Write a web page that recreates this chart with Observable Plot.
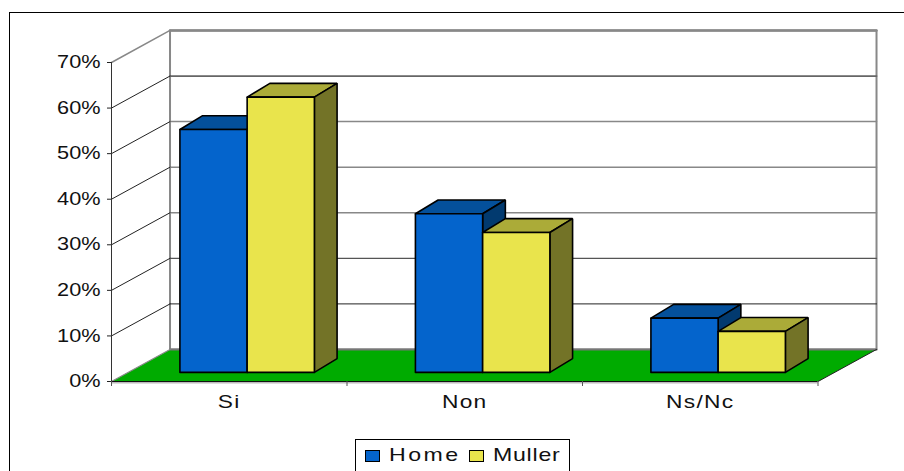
<!DOCTYPE html>
<html>
<head>
<meta charset="utf-8">
<script src="https://cdn.jsdelivr.net/npm/d3@7"></script>
<script src="https://cdn.jsdelivr.net/npm/@observablehq/plot@0.6"></script>
<style>
html,body{margin:0;padding:0;background:#fff;overflow:hidden;width:904px;height:471px}
#frame{position:absolute;left:9px;top:12px;width:895px;height:459px;border-left:1.5px solid #000;border-top:1.5px solid #000;box-sizing:border-box}
#chart{position:absolute;left:0;top:0}
#legend{position:absolute;left:355px;top:439px;width:215px;height:40px;border:1px solid #000;box-sizing:border-box;background:#fff;font-family:"Liberation Sans",Arial,sans-serif;font-size:18.5px;color:#111}
#legend i{position:absolute;top:9.5px;width:13px;height:10px;border:1.5px solid #000;box-sizing:content-box}
#legend span{position:absolute;top:5px;line-height:20px;transform-origin:0 50%;transform:scaleX(1.25);letter-spacing:2px;white-space:nowrap}
</style>
</head>
<body>
<div id="frame"></div>
<div id="chart"></div>
<div id="legend"></div>
<script>
const categories = ["Si", "Non", "Ns/Nc"];
const seriesNames = ["Home", "Muller"];
const home = [53.3, 34.8, 11.9];
const muller = [60.4, 30.7, 9.0];
const yTicks = [0, 10, 20, 30, 40, 50, 60, 70];
const frontColors = ["#0464CC", "#E9E44C"];
const topColors = ["#04509B", "#ABAB38"];
const sideColors = ["#023A6F", "#737327"];
const floorColor = "#00AB00";

// Oblique projection, in data units: the depth of the chart box and of a bar.
const boxDepthX = 0.2485, boxDepthY = 7.03;
const barDepthX = 0.0964, barDepthY = 3.03, barBase = 2;
const barStart = 0.2905, barWidth = 0.2855;

const poly = (id, pts) => [...pts, pts[0]].map(([x, y]) => ({id, x, y}));

const wall = poly("wall", [[boxDepthX, boxDepthY], [3 + boxDepthX, boxDepthY], [3 + boxDepthX, 70 + boxDepthY], [boxDepthX, 70 + boxDepthY]]);
const floor = poly("floor", [[0, 0], [3, 0], [3 + boxDepthX, boxDepthY], [boxDepthX, boxDepthY]]);

const gridStroke = {70: "#888", 60: "#666", 50: "#888", 40: "#888", 30: "#888", 20: "#555", 10: "#222"};
const gridWidth = {70: 2.4, 60: 1.8, 50: 1.5, 40: 1.5, 30: 1.5, 20: 1.3, 10: 1};

const faceMarks = [];
categories.forEach((c, i) => {
  [home, muller].forEach((vals, s) => {
    const x0 = i + barStart + s * barWidth, x1 = x0 + barWidth;
    const y0 = barBase, y1 = barBase + vals[i];
    const dx = barDepthX, dy = barDepthY;
    const common = {x: "x", y: "y", stroke: "#000", strokeWidth: 1.6, strokeLinejoin: "miter"};
    faceMarks.push(Plot.line(poly("t", [[x0, y1], [x1, y1], [x1 + dx, y1 + dy], [x0 + dx, y1 + dy]]), {...common, fill: topColors[s]}));
    faceMarks.push(Plot.line(poly("s", [[x1, y0], [x1 + dx, y0 + dy], [x1 + dx, y1 + dy], [x1, y1]]), {...common, fill: sideColors[s]}));
    faceMarks.push(Plot.line(poly("f", [[x0, y0], [x1, y0], [x1, y1], [x0, y1]]), {...common, fill: frontColors[s]}));
  });
});

const seg = (pts, opts) => Plot.line(pts, {x: d => d[0], y: d => d[1], ...opts});

const chart = Plot.plot({
  width: 904, height: 471,
  marginLeft: 111, marginRight: 86.5, marginTop: 62, marginBottom: 90,
  style: {background: "transparent", fontFamily: "'Liberation Sans', Arial, sans-serif", overflow: "visible"},
  x: {domain: [0, 3], axis: null},
  y: {domain: [0, 70], axis: null},
  marks: [
    Plot.line(wall, {x: "x", y: "y", fill: "#fff", stroke: "#888", strokeWidth: 2}),
    ...yTicks.filter(t => t > 0).flatMap(t => [
      seg([[boxDepthX, t + boxDepthY], [3 + boxDepthX, t + boxDepthY]], {stroke: gridStroke[t], strokeWidth: gridWidth[t]}),
      seg([[0, t], [boxDepthX, t + boxDepthY]], {stroke: t === 70 ? "#888" : "#222", strokeWidth: t === 70 ? 1.5 : 1})
    ]),
    Plot.line(floor, {x: "x", y: "y", fill: floorColor, stroke: "none"}),
    seg([[boxDepthX, boxDepthY], [3 + boxDepthX, boxDepthY]], {stroke: "#777", strokeWidth: 2}),
    seg([[boxDepthX, boxDepthY], [0, 0]], {stroke: "#888", strokeWidth: 1.2}),
    seg([[3, 0], [3 + boxDepthX, boxDepthY]], {stroke: "#222", strokeWidth: 1}),
    Plot.ruleY([0], {x1: 0, x2: 3, stroke: "#bbb", strokeWidth: 2, dy: 1}),
    Plot.ruleY([0], {x1: 0, x2: 3, stroke: "#111", strokeWidth: 1}),
    Plot.ruleX([0], {y1: 0, y2: 70, stroke: "#333", strokeWidth: 1}),
    ...faceMarks,
    Plot.axisY({ticks: yTicks, tickFormat: d => d + "%", tickSize: 4, tickPadding: 7, fontSize: 17.5, label: null, stroke: "#222", fill: "#111"}),
    Plot.axisX({ticks: [0, 1, 2, 3], tickFormat: () => "", tickSize: 5, label: null, stroke: "#555"}),
    Plot.text(categories, {x: (d, i) => i + 0.5, y: 0, text: d => d, dy: 21, fontSize: 17.5, fill: "#111"})
  ]
});

// The reference's type is stretched horizontally.
chart.querySelectorAll("text").forEach(t => {
  const tr = t.getAttribute("transform") || "";
  const isCat = categories.includes(t.textContent);
  t.setAttribute("transform", tr + (isCat ? " scale(1.3,1)" : " scale(1.24,1)"));
  if (isCat) t.setAttribute("letter-spacing", "1");
});
document.getElementById("chart").appendChild(chart);

const legend = document.getElementById("legend");
seriesNames.forEach((name, s) => {
  const sw = document.createElement("i");
  sw.style.left = (s ? 113 : 9) + "px";
  sw.style.background = frontColors[s];
  const lb = document.createElement("span");
  lb.textContent = name;
  lb.style.left = (s ? 137 : 32.5) + "px";
  if (s) lb.style.letterSpacing = "0.6px";
  legend.append(sw, lb);
});
</script>
</body>
</html>
